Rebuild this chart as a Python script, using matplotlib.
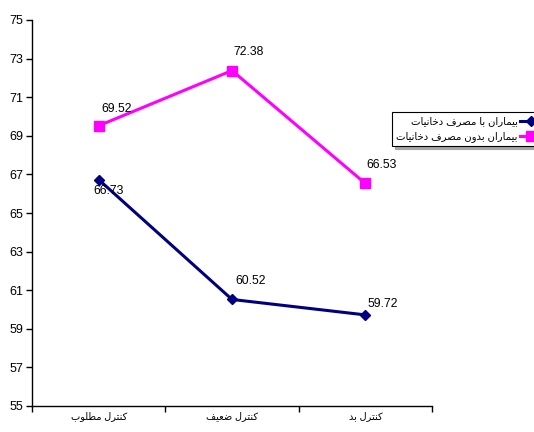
import matplotlib
matplotlib.use("Agg")
import matplotlib.pyplot as plt

# data
categories = ["کنترل مطلوب", "کنترل ضعیف", "کنترل بد"]
smokers = [66.73, 60.52, 59.72]
non_smokers = [69.52, 72.38, 66.53]
series_names = ["بیماران با مصرف دخانیات", "بیماران بدون مصرف دخانیات"]
y_ticks = [55, 57, 59, 61, 63, 65, 67, 69, 71, 73, 75]

# presentation forms: isolated, final, initial, medial
FORMS = {
    "ا": ("\uFE8D", "\uFE8E"),
    "د": ("\uFEA9", "\uFEAA"),
    "ر": ("\uFEAD", "\uFEAE"),
    "و": ("\uFEED", "\uFEEE"),
    "ب": ("\uFE8F", "\uFE90", "\uFE91", "\uFE92"),
    "ت": ("\uFE95", "\uFE96", "\uFE97", "\uFE98"),
    "خ": ("\uFEA5", "\uFEA6", "\uFEA7", "\uFEA8"),
    "ص": ("\uFEB9", "\uFEBA", "\uFEBB", "\uFEBC"),
    "ض": ("\uFEBD", "\uFEBE", "\uFEBF", "\uFEC0"),
    "ط": ("\uFEC1", "\uFEC2", "\uFEC3", "\uFEC4"),
    "ع": ("\uFEC9", "\uFECA", "\uFECB", "\uFECC"),
    "ف": ("\uFED1", "\uFED2", "\uFED3", "\uFED4"),
    "ل": ("\uFEDD", "\uFEDE", "\uFEDF", "\uFEE0"),
    "م": ("\uFEE1", "\uFEE2", "\uFEE3", "\uFEE4"),
    "ن": ("\uFEE5", "\uFEE6", "\uFEE7", "\uFEE8"),
    "ک": ("\uFB8E", "\uFB8F", "\uFB90", "\uFB91"),
    "ی": ("\uFBFC", "\uFBFD", "\uFBFE", "\uFBFF"),
}


def shape(text):
    """Join Persian letters and put them in visual order."""
    out = []
    for i, ch in enumerate(text):
        if ch not in FORMS:
            out.append(ch)
            continue
        prev = text[i - 1] if i > 0 else ""
        nxt = text[i + 1] if i + 1 < len(text) else ""
        joins_prev = prev in FORMS and len(FORMS[prev]) == 4
        joins_next = len(FORMS[ch]) == 4 and nxt in FORMS
        f = FORMS[ch]
        if joins_prev and joins_next:
            out.append(f[3])
        elif joins_prev:
            out.append(f[1])
        elif joins_next:
            out.append(f[2])
        else:
            out.append(f[0])
    return "".join(reversed(out))


plt.rcParams["font.family"] = ["Liberation Sans", "DejaVu Sans"]

fig = plt.figure(figsize=(5.34, 4.32), dpi=100)
ax = fig.add_axes([32 / 534, 26 / 432, 400 / 534, 386 / 432])

x = list(range(len(categories)))
ax.plot(x, smokers, color="#000080", lw=2.2, marker="D", ms=5.5,
        label=shape(series_names[0]))
ax.plot(x, non_smokers, color="#FF00FF", lw=2.2, marker="s", ms=6.5,
        label=shape(series_names[1]))

# data labels (offsets in pixels from the point)
smoker_offsets = [(-5, -11), (3, 18), (2, 11)]
non_smoker_offsets = [(3, 17), (1, 19), (1, 18)]
for xi, v, off in zip(x, smokers, smoker_offsets):
    ax.annotate(f"{v:.2f}", (xi, v), xytext=off, textcoords="offset pixels",
                ha="left", va="center", fontsize=8.8)
for xi, v, off in zip(x, non_smokers, non_smoker_offsets):
    ax.annotate(f"{v:.2f}", (xi, v), xytext=off, textcoords="offset pixels",
                ha="left", va="center", fontsize=8.8)

ax.set_xlim(-0.5, 2.5)
ax.set_ylim(55, 75)
ax.set_yticks(y_ticks)
ax.set_xticks([-0.5, 0.5, 1.5, 2.5])
ax.set_xticklabels([])
ax.set_xticks(x, [shape(c) for c in categories], minor=True)
ax.tick_params(axis="x", which="minor", length=0, pad=4, labelsize=7)
ax.tick_params(axis="x", which="major", length=4, width=1, direction="out")
ax.tick_params(axis="y", length=4, width=1, direction="out", labelsize=9, pad=2)

for side in ["top", "right"]:
    ax.spines[side].set_visible(False)
for side in ["left", "bottom"]:
    ax.spines[side].set_linewidth(1)
    ax.spines[side].set_color("black")

leg = fig.legend(loc="upper left", bbox_to_anchor=(392 / 534, 1 - 112 / 432),
                 markerfirst=False, fontsize=7.3, frameon=True, fancybox=False,
                 edgecolor="black", handlelength=2.0, borderpad=0.4,
                 labelspacing=0.5, handletextpad=0.3, borderaxespad=0,
                 shadow={"color": "0.65", "alpha": 1})
leg.get_frame().set_linewidth(0.8)

fig.savefig("out.png", dpi=100)
plt.close(fig)
